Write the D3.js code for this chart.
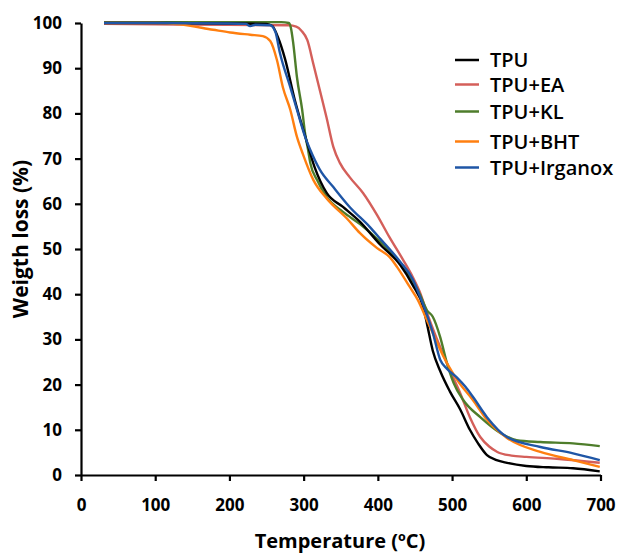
<!DOCTYPE html>
<html>
<head>
<meta charset="utf-8">
<script src="https://cdn.jsdelivr.net/npm/d3@7"></script>
<style>
  html, body { margin: 0; padding: 0; background: #fff; }
  svg { display: block; font-family: "Open Sans", sans-serif; }
</style>
</head>
<body>
<svg id="chart" width="622" height="553"></svg>
<script>
// ---------------- DATA ----------------
const seriesNames = ["TPU", "TPU+EA", "TPU+KL", "TPU+BHT", "TPU+Irganox"];

const tpuT = [31, 100, 200, 250, 258, 265, 275, 288, 302, 315, 331, 353, 376, 403, 430, 447, 461, 466, 474, 484, 497, 511, 524, 535, 547, 560, 574, 600, 630, 663, 699];
const tpuW = [100, 100, 99.9, 99.8, 99.3, 97, 92, 83, 75, 68, 62.4, 59.3, 56, 51, 46.5, 42, 37.2, 33.6, 27.5, 23, 18.5, 14.5, 10, 7, 4.4, 3.3, 2.7, 2.0, 1.7, 1.5, 0.8];

const eaT = [31, 100, 200, 280, 290, 297, 305, 313, 322, 331, 340, 349, 362, 380, 399, 416, 434, 447, 457, 466, 475, 484, 497, 511, 524, 538, 550, 561, 580, 600, 641, 699];
const eaW = [99.8, 99.7, 99.6, 99.5, 99.2, 98.3, 96.2, 91, 85, 79, 72.6, 69, 65.9, 62.4, 57.5, 52.5, 47.6, 43.8, 40.3, 36, 32, 28.3, 23.2, 18.1, 12.8, 8.4, 6.3, 5.1, 4.3, 4.0, 3.6, 2.7];

const klT = [31, 100, 200, 270, 280, 283, 286, 291, 298, 302, 306, 309, 318, 331, 353, 376, 407, 430, 447, 457, 466, 474, 484, 493, 502, 515, 538, 565, 587, 619, 663, 699];
const klW = [100.2, 100.2, 100.2, 100.2, 100, 98.8, 95.5, 88, 80.8, 75.5, 71.9, 69, 65.3, 61.5, 58.2, 55.5, 51, 47, 43, 39.8, 36.5, 35, 30.5, 24.8, 20.4, 16.6, 12.8, 9.3, 7.7, 7.3, 7.0, 6.4];

const bhtT = [31, 100, 133, 178, 201, 228, 245, 255, 264, 272, 282, 291, 299, 313, 331, 358, 376, 399, 416, 426, 443, 454, 466, 480, 484, 507, 528, 547, 574, 619, 663, 699];
const bhtW = [100, 100, 99.7, 98.5, 97.9, 97.4, 97.1, 96, 91.8, 85.8, 80.8, 74.8, 71, 65.3, 61.2, 56.8, 53.5, 50.2, 48.2, 46, 41.6, 38.7, 34.3, 29.2, 27.7, 21.0, 16.6, 12.2, 8.2, 5.1, 3.3, 1.8];

const irgT = [31, 100, 200, 222, 228, 235, 255, 262, 268, 282, 291, 302, 309, 322, 340, 362, 389, 403, 430, 447, 457, 465, 474, 484, 493, 507, 518, 528, 547, 574, 619, 663, 699];
const irgW = [100, 100, 99.9, 99.8, 99.3, 99.6, 99.5, 98, 93.4, 85.8, 80.8, 74.8, 71.9, 67.5, 63.7, 59.3, 54.9, 52.3, 47.2, 43.3, 39.4, 36, 31.5, 25.5, 23.5, 21.5, 19.5, 17.3, 12.8, 8.4, 6.2, 4.8, 3.3];

const xTicks = [0, 100, 200, 300, 400, 500, 600, 700];
const yTicks = [0, 10, 20, 30, 40, 50, 60, 70, 80, 90, 100];

// ---------------- STYLE ----------------
const colors = ["#000000", "#d45f5a", "#4e7d2b", "#ff7f10", "#1f56a6"];
const drawOrder = [1, 2, 0, 3, 4]; // paint order

const svg = d3.select("#chart");
const x = d3.scaleLinear().domain([0, 700]).range([81, 600.5]);
const y = d3.scaleLinear().domain([0, 100]).range([475, 23]);

const series = [
  tpuT.map((t, i) => [t, tpuW[i]]),
  eaT.map((t, i) => [t, eaW[i]]),
  klT.map((t, i) => [t, klW[i]]),
  bhtT.map((t, i) => [t, bhtW[i]]),
  irgT.map((t, i) => [t, irgW[i]])
];

const line = d3.line()
  .x(d => x(d[0]))
  .y(d => y(d[1]))
  .curve(d3.curveMonotoneX);

drawOrder.forEach(i => {
  svg.append("path")
    .datum(series[i])
    .attr("fill", "none")
    .attr("stroke", colors[i])
    .attr("stroke-width", 2.4)
    .attr("stroke-linejoin", "round")
    .attr("d", line);
});

// Axes
const xAxis = d3.axisBottom(x).tickValues(xTicks).tickSize(6).tickSizeOuter(0).tickPadding(18);
const yAxis = d3.axisLeft(y).tickValues(yTicks).tickSize(6).tickSizeOuter(0).tickPadding(13);

const gx = svg.append("g").attr("transform", "translate(0,475)").call(xAxis);
const gy = svg.append("g").attr("transform", "translate(81,0)").call(yAxis);

[gx, gy].forEach(g => {
  g.selectAll("path.domain").attr("stroke", "#000").attr("stroke-width", 2.2);
  g.selectAll(".tick line").attr("stroke", "#000").attr("stroke-width", 2.2);
  g.selectAll(".tick text")
    .attr("fill", "#000")
    .style("font-family", "'Open Sans', sans-serif")
    .style("font-size", "17px")
    .style("font-weight", "700");
});

// Axis titles
svg.append("text")
  .attr("x", 340).attr("y", 548)
  .attr("text-anchor", "middle")
  .style("font-size", "20px").style("font-weight", "700")
  .text("Temperature (ºC)");

svg.append("text")
  .attr("transform", "translate(28,239) rotate(-90)")
  .attr("text-anchor", "middle")
  .style("font-size", "21px").style("font-weight", "700")
  .text("Weigth loss (%)");

// Legend
const legendY = [60, 84.5, 111.5, 141.5, 167.5];
const legend = svg.append("g");
seriesNames.forEach((name, i) => {
  legend.append("line")
    .attr("x1", 455).attr("x2", 479)
    .attr("y1", legendY[i]).attr("y2", legendY[i])
    .attr("stroke", colors[i]).attr("stroke-width", 2.5);
  legend.append("text")
    .attr("x", 490).attr("y", legendY[i])
    .attr("dy", "0.36em")
    .style("font-size", "20px").style("font-weight", "600")
    .attr("fill", "#000")
    .text(name);
});
</script>
</body>
</html>
